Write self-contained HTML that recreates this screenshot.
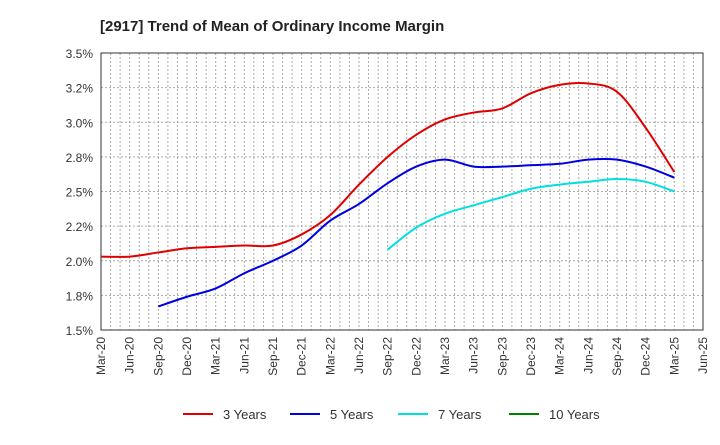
<!DOCTYPE html>
<html><head><meta charset="utf-8"><style>
body{margin:0;background:#fff;font-family:"Liberation Sans",sans-serif}
</style></head><body>
<svg id="c" width="720" height="440" xmlns="http://www.w3.org/2000/svg" font-family="Liberation Sans, sans-serif">
<text x="100" y="31" font-size="15" font-weight="bold" fill="#222">[2917]  Trend of Mean of Ordinary Income Margin</text>
<g id="grid"></g><g id="series"></g><g id="axes"></g><g id="legend"></g>
</svg>
<script>
const xLabels=["Mar-20","Jun-20","Sep-20","Dec-20","Mar-21","Jun-21","Sep-21","Dec-21","Mar-22","Jun-22","Sep-22","Dec-22","Mar-23","Jun-23","Sep-23","Dec-23","Mar-24","Jun-24","Sep-24","Dec-24","Mar-25","Jun-25"];
const yTicks=[1.5,1.75,2.0,2.25,2.5,2.75,3.0,3.25,3.5];
const yTickLabels=["1.5%","1.8%","2.0%","2.2%","2.5%","2.8%","3.0%","3.2%","3.5%"];
const s3=[2.03,2.03,2.06,2.09,2.10,2.11,2.11,2.19,2.33,2.55,2.75,2.91,3.02,3.07,3.10,3.21,3.27,3.28,3.22,2.96,2.64];
const s5=[null,null,1.67,1.74,1.80,1.91,2.00,2.11,2.29,2.41,2.56,2.68,2.73,2.68,2.68,2.69,2.70,2.73,2.73,2.68,2.60];
const s7=[null,null,null,null,null,null,null,null,null,null,2.08,2.24,2.34,2.40,2.46,2.52,2.55,2.57,2.59,2.57,2.50];
const s10=[];
const seriesNames=["3 Years","5 Years","7 Years","10 Years"];
const colors=["#e00000","#0000e0","#00e0e0","#008000"];
const L=101,R=703,T=53,B=330,NS="http://www.w3.org/2000/svg";
const xs=i=>L+i*(R-L)/21, ys=v=>B-(v-1.5)/2*(B-T);
function mk(p,t,a){const e=document.createElementNS(NS,t);for(const k in a)e.setAttribute(k,a[k]);document.getElementById(p).appendChild(e);return e;}
for(let m=1;m<63;m++){const x=L+m*(R-L)/63;const g=mk('grid','line',{x1:x,x2:x,y1:T,y2:B,stroke:'#aaa','stroke-dasharray':'2,2','stroke-width':1});

}
yTicks.forEach((v,i)=>{const y=ys(v);
if(i>0&&i<8){const g=mk('grid','line',{x1:L,x2:R,y1:y,y2:y,stroke:'#aaa','stroke-dasharray':'2,2'});

}
const t=mk('axes','text',{x:L-8,y:y+5,'text-anchor':'end','font-size':12,fill:'#333'});t.textContent=yTickLabels[i];

});
xLabels.forEach((s,i)=>{const x=xs(i);const t=mk('axes','text',{transform:`translate(${x+4},337) rotate(-90)`,'text-anchor':'end','font-size':12,fill:'#333'});t.textContent=s;

});
const fr=mk('axes','rect',{x:L,y:T,width:R-L,height:B-T,fill:'none',stroke:'#333'});


function path(d){const p=[];d.forEach((v,i)=>{if(v!=null)p.push([xs(i),ys(v)]);});if(p.length<2)return '';
let s=`M${p[0][0]},${p[0][1]}`;for(let i=0;i<p.length-1;i++){const a=p[i-1]||p[i],b=p[i],c=p[i+1],e=p[i+2]||c;
s+=`C${b[0]+(c[0]-a[0])/6},${b[1]+(c[1]-a[1])/6} ${c[0]-(e[0]-b[0])/6},${c[1]-(e[1]-b[1])/6} ${c[0]},${c[1]}`;}return s;}
[s3,s5,s7,s10].forEach((d,k)=>{const dd=path(d);if(!dd)return;const p=mk('series','path',{d:dd,fill:'none',stroke:colors[k],'stroke-width':2});

});
const lx=[183,290,398,509];
seriesNames.forEach((n,k)=>{const l=mk('legend','line',{x1:lx[k],x2:lx[k]+30,y1:414,y2:414,stroke:colors[k],'stroke-width':2});


const t=mk('legend','text',{x:lx[k]+40,y:419,'font-size':13,fill:'#333'});t.textContent=n;

});
</script>
</body></html>
